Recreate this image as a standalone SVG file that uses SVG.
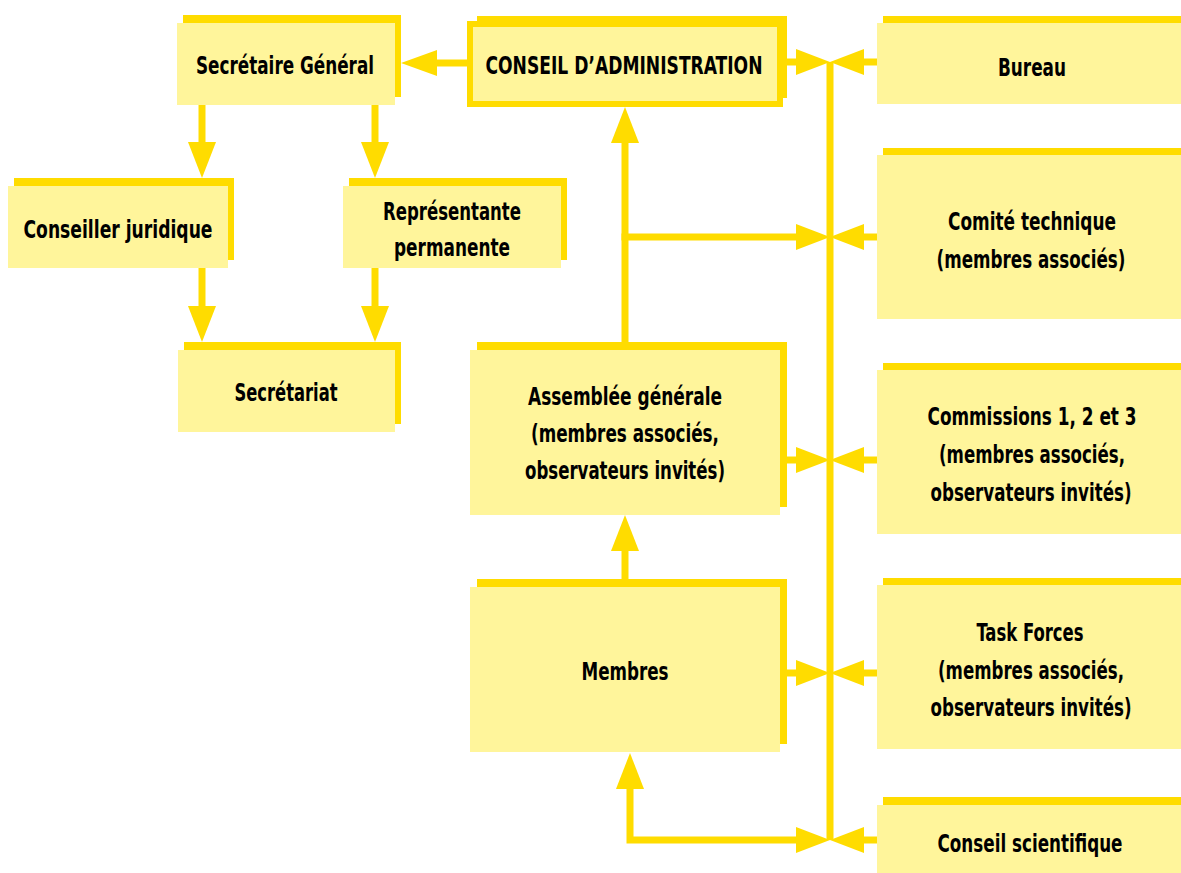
<svg xmlns="http://www.w3.org/2000/svg" width="1181" height="873" viewBox="0 0 1181 873">
<style>
.sh{fill:#FFDC00}
.bx{fill:#FFF59B}
.bd{fill:#FFF59B;stroke:#FFDC00;stroke-width:6}
.t{font-family:"DejaVu Sans Condensed","DejaVu Sans","Liberation Sans",sans-serif;font-weight:bold;font-size:24px;text-anchor:middle;fill:#000}
.ln{stroke:#FFDC00;stroke-width:7;fill:none}
.ah{fill:#FFDC00}
</style>
<rect width="1181" height="873" fill="#fff"/>
<g id="secretaire-general">
<rect class="sh" x="183" y="15" width="218" height="82"/>
<rect class="bx" x="177" y="23" width="218" height="82"/>
<text class="t" x="285" y="74" textLength="178" lengthAdjust="spacingAndGlyphs">Secrétaire Général</text>
</g>
<g id="conseil-administration">
<rect class="sh" x="477" y="16" width="310" height="82"/>
<rect class="bd" x="470" y="24" width="310" height="80"/>
<text class="t" x="624" y="74" textLength="277" lengthAdjust="spacingAndGlyphs">CONSEIL D’ADMINISTRATION</text>
</g>
<g id="bureau">
<rect class="sh" x="883" y="16" width="310" height="81"/>
<rect class="bx" x="877" y="23" width="310" height="81"/>
<text class="t" x="1032" y="76" textLength="68" lengthAdjust="spacingAndGlyphs">Bureau</text>
</g>
<g id="conseiller-juridique">
<rect class="sh" x="14" y="178" width="220" height="82"/>
<rect class="bx" x="8" y="186" width="220" height="82"/>
<text class="t" x="118" y="238" textLength="189" lengthAdjust="spacingAndGlyphs">Conseiller juridique</text>
</g>
<g id="representante-permanente">
<rect class="sh" x="349" y="178" width="218" height="82"/>
<rect class="bx" x="343" y="186" width="218" height="82"/>
<text class="t" x="452" y="220" textLength="138" lengthAdjust="spacingAndGlyphs">Représentante</text>
<text class="t" x="452" y="256" textLength="116" lengthAdjust="spacingAndGlyphs">permanente</text>
</g>
<g id="secretariat">
<rect class="sh" x="184" y="342" width="217" height="82"/>
<rect class="bx" x="178" y="350" width="217" height="82"/>
<text class="t" x="286" y="401" textLength="103" lengthAdjust="spacingAndGlyphs">Secrétariat</text>
</g>
<g id="assemblee-generale">
<rect class="sh" x="477" y="342" width="310" height="165"/>
<rect class="bx" x="470" y="350" width="310" height="165"/>
<text class="t" x="625" y="405" textLength="194" lengthAdjust="spacingAndGlyphs">Assemblée générale</text>
<text class="t" x="625" y="442" textLength="188" lengthAdjust="spacingAndGlyphs">(membres associés,</text>
<text class="t" x="625" y="479" textLength="200" lengthAdjust="spacingAndGlyphs">observateurs invités)</text>
</g>
<g id="membres">
<rect class="sh" x="477" y="579" width="310" height="165"/>
<rect class="bx" x="470" y="587" width="310" height="165"/>
<text class="t" x="625" y="680" textLength="87" lengthAdjust="spacingAndGlyphs">Membres</text>
</g>
<g id="comite-technique">
<rect class="sh" x="883" y="148" width="310" height="164"/>
<rect class="bx" x="877" y="155" width="310" height="164"/>
<text class="t" x="1032" y="230" textLength="168" lengthAdjust="spacingAndGlyphs">Comité technique</text>
<text class="t" x="1031" y="268" textLength="189" lengthAdjust="spacingAndGlyphs">(membres associés)</text>
</g>
<g id="commissions">
<rect class="sh" x="883" y="363" width="310" height="164"/>
<rect class="bx" x="877" y="370" width="310" height="164"/>
<text class="t" x="1032" y="425" textLength="209" lengthAdjust="spacingAndGlyphs">Commissions 1, 2 et 3</text>
<text class="t" x="1032" y="463" textLength="186" lengthAdjust="spacingAndGlyphs">(membres associés,</text>
<text class="t" x="1031" y="501" textLength="201" lengthAdjust="spacingAndGlyphs">observateurs invités)</text>
</g>
<g id="task-forces">
<rect class="sh" x="883" y="578" width="310" height="164"/>
<rect class="bx" x="877" y="585" width="310" height="164"/>
<text class="t" x="1030" y="641" textLength="107" lengthAdjust="spacingAndGlyphs">Task Forces</text>
<text class="t" x="1031" y="679" textLength="186" lengthAdjust="spacingAndGlyphs">(membres associés,</text>
<text class="t" x="1031" y="716" textLength="201" lengthAdjust="spacingAndGlyphs">observateurs invités)</text>
</g>
<g id="conseil-scientifique">
<rect class="sh" x="883" y="797" width="310" height="80"/>
<rect class="bx" x="877" y="805" width="310" height="80"/>
<text class="t" x="1030" y="852" textLength="185" lengthAdjust="spacingAndGlyphs">Conseil scientifique</text>
</g>
<g id="connectors">
<line class="ln" x1="830" y1="62" x2="830" y2="840"/>
<line class="ln" x1="783" y1="62" x2="798" y2="62"/>
<polygon class="ah" points="796,49 830,62 796,75"/>
<line class="ln" x1="877" y1="62" x2="862" y2="62"/>
<polygon class="ah" points="864,49 830,62 864,75"/>
<line class="ln" x1="625" y1="342" x2="625" y2="141"/>
<polygon class="ah" points="611,143 625,107 639,143"/>
<line class="ln" x1="621.5" y1="237" x2="798" y2="237"/>
<polygon class="ah" points="796,224 830,237 796,250"/>
<line class="ln" x1="877" y1="237" x2="862" y2="237"/>
<polygon class="ah" points="864,224 830,237 864,250"/>
<line class="ln" x1="780" y1="460" x2="798" y2="460"/>
<polygon class="ah" points="796,447 830,460 796,473"/>
<line class="ln" x1="877" y1="460" x2="862" y2="460"/>
<polygon class="ah" points="864,447 830,460 864,473"/>
<line class="ln" x1="625" y1="579" x2="625" y2="549"/>
<polygon class="ah" points="611,551 625,515 639,551"/>
<line class="ln" x1="780" y1="673" x2="798" y2="673"/>
<polygon class="ah" points="796,660 830,673 796,686"/>
<line class="ln" x1="877" y1="673" x2="862" y2="673"/>
<polygon class="ah" points="864,660 830,673 864,686"/>
<polyline class="ln" points="630,787 630,840 798,840"/>
<polygon class="ah" points="616,789 630,753 644,789"/>
<polygon class="ah" points="796,827 830,840 796,853"/>
<line class="ln" x1="877" y1="840" x2="862" y2="840"/>
<polygon class="ah" points="864,827 830,840 864,853"/>
<line class="ln" x1="467" y1="63" x2="435" y2="63"/>
<polygon class="ah" points="437,50 401,63 437,76"/>
<line class="ln" x1="202" y1="105" x2="202" y2="144"/>
<polygon class="ah" points="188,142 202,178 216,142"/>
<line class="ln" x1="375" y1="105" x2="375" y2="144"/>
<polygon class="ah" points="361,142 375,178 389,142"/>
<line class="ln" x1="202" y1="268" x2="202" y2="308"/>
<polygon class="ah" points="188,306 202,342 216,306"/>
<line class="ln" x1="375" y1="268" x2="375" y2="308"/>
<polygon class="ah" points="361,306 375,342 389,306"/>
</g>
</svg>
